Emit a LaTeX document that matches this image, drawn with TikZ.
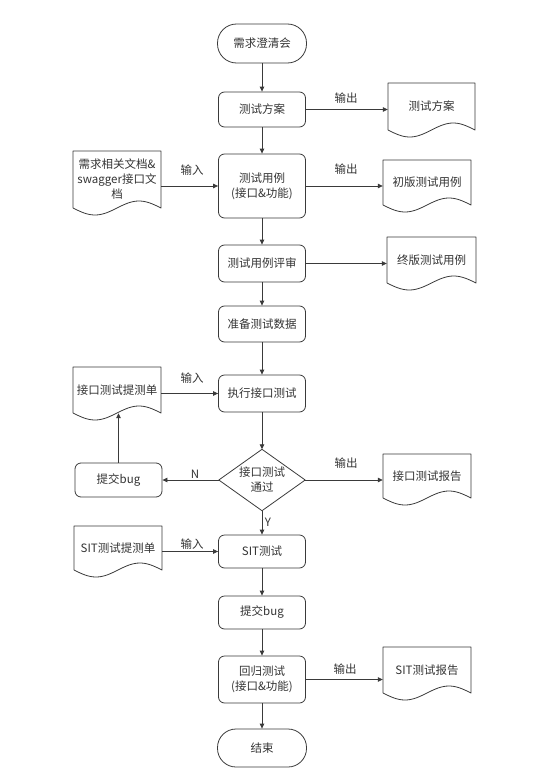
\documentclass[tikz,border=0pt]{standalone}
\usepackage{fontspec}
\setmainfont{Noto Sans CJK SC}
\usetikzlibrary{arrows.meta,calc}
\definecolor{ln}{HTML}{3A3A3A}
\definecolor{tx}{HTML}{333333}
\tikzset{
  base/.style={font=\fontsize{11.5}{15}\selectfont, text=tx, align=center, inner sep=0pt},
  proc/.style={base, draw=ln, line width=0.8pt, rounded corners=6pt, minimum width=87pt},
  term/.style={base, draw=ln, line width=0.8pt, minimum width=89pt},
  docbox/.style={base},
  docline/.style={draw=ln, line width=0.8pt, line join=round},
  arr/.style={draw=ln, line width=0.8pt, -{Triangle[length=5pt,width=4.5pt]}},
  lbl/.style={base}
}
% name, cx, top, w, h, text
\newcommand\mydoc[6]{%
  \node[docbox, minimum width=#4pt, minimum height=#5pt] (#1) at (#2,{#3+#5/2}) {#6};
  \draw[docline] ({#2-#4/2},#3) -- ({#2+#4/2},#3) -- ({#2+#4/2},{#3+#5})
    -- plot[domain=1:0, samples=40, variable=\t] ({#2-#4/2+#4*\t},{#3+#5+7*sin(360*\t)}) -- cycle;
}
\begin{document}
\begin{tikzpicture}[x=1pt,y=-1pt]
\useasboundingbox (0,0) rectangle (554,784);
% main column
\node[term, rounded corners=19pt, minimum height=39pt] (s) at (262,43.5) {需求澄清会};
\node[proc, minimum height=35pt] (n1) at (262,109.5) {测试方案};
\node[proc, minimum height=64pt] (n2) at (262,186) {测试用例\\(接口\&功能)};
\node[proc, minimum height=37pt] (n3) at (262,263.5) {测试用例评审};
\node[proc, minimum height=36pt] (n4) at (262,324) {准备测试数据};
\node[proc, minimum height=37pt] (n5) at (262,393.5) {执行接口测试};
\node[base, minimum width=86pt, minimum height=61pt] (dia) at (262,480) {接口测试\\通过};
\draw[docline] (dia.north) -- (dia.east) -- (dia.south) -- (dia.west) -- cycle;
\node[proc, minimum height=33pt] (n6) at (262,551.5) {SIT测试};
\node[proc, minimum height=33pt] (n7) at (262,612.5) {提交bug};
\node[proc, minimum height=47pt] (n8) at (262,679.5) {回归测试\\(接口\&功能)};
\node[term, rounded corners=18.5pt, minimum height=38pt] (e) at (262,748) {结束};
\node[proc, minimum height=34pt] (bl) at (118.5,480) {提交bug};
% documents
\mydoc{d1}{431.5}{83}{87}{47}{测试方案}
\mydoc{d2}{427}{160}{88}{45}{初版测试用例}
\mydoc{d3}{431.5}{237}{89}{46}{终版测试用例}
\mydoc{d4}{427}{454}{88}{44}{接口测试报告}
\mydoc{d5}{427}{647}{88}{46}{SIT测试报告}
\mydoc{d6}{117}{151}{88}{57}{需求相关文档\&\\swagger接口文\\档}
\mydoc{d7}{117}{367}{88}{46}{接口测试提测单}
\mydoc{d8}{118}{526}{88}{44}{SIT测试提测单}
% main flow
\draw[arr] (s.south) -- (n1.north);
\draw[arr] (n1.south) -- (n2.north);
\draw[arr] (n2.south) -- (n3.north);
\draw[arr] (n3.south) -- (n4.north);
\draw[arr] (n4.south) -- (n5.north);
\draw[arr] (n5.south) -- (dia.north);
\draw[arr] (dia.south) -- (n6.north);
\draw[arr] (n6.south) -- (n7.north);
\draw[arr] (n7.south) -- (n8.north);
\draw[arr] (n8.south) -- (e.north);
% outputs
\draw[arr] (n1.east) -- (n1.east -| d1.west);
\draw[arr] (n2.east) -- (n2.east -| d2.west);
\draw[arr] (n3.east) -- (n3.east -| d3.west);
\draw[arr] (dia.east) -- (dia.east -| d4.west);
\draw[arr] (n8.east) -- (n8.east -| d5.west);
% inputs
\draw[arr] (n2.west -| d6.east) -- (n2.west);
\draw[arr] (n5.west -| d7.east) -- (n5.west);
\draw[arr] (n6.west -| d8.east) -- (n6.west);
% loop
\draw[arr] (dia.west) -- (bl.east);
\draw[arr] (bl.north) -- (bl.north |- d7.south);
% labels
\node[lbl] (o1) at (346,98) {输出};
\node[lbl] (o2) at (346,169) {输出};
\node[lbl] (o4) at (346,463) {输出};
\node[lbl] (o5) at (345,669) {输出};
\node[lbl] (i1) at (192,170) {输入};
\node[lbl] (i2) at (192,378) {输入};
\node[lbl] (i3) at (192,544) {输入};
\node[lbl] (ln) at (195,474) {N};
\node[lbl] (ly) at (268,522) {Y};
\end{tikzpicture}
\end{document}
